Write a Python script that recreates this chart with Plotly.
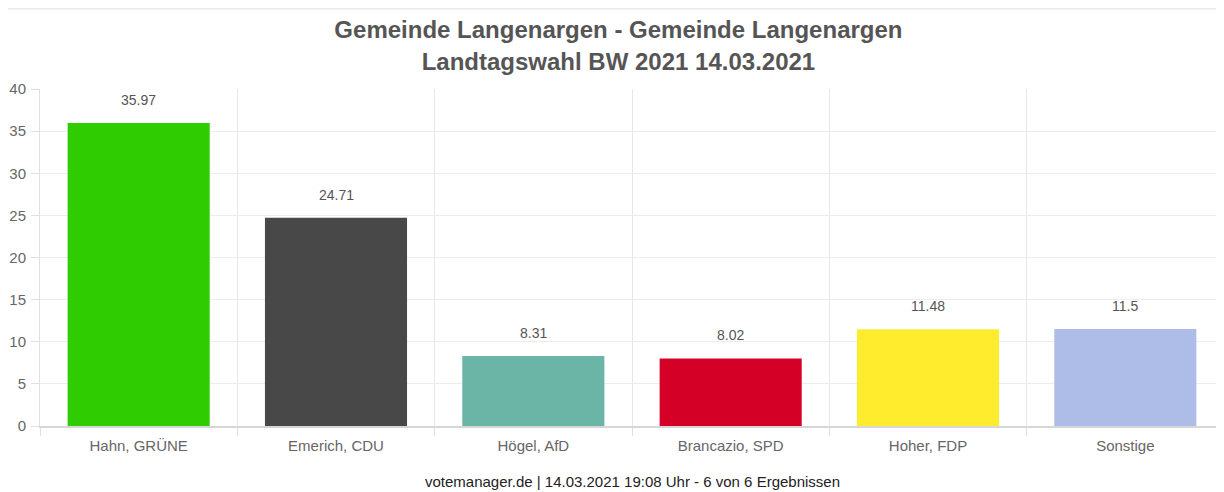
import plotly.graph_objects as go

categories = ["Hahn, GRÜNE", "Emerich, CDU", "Högel, AfD", "Brancazio, SPD", "Hoher, FDP", "Sonstige"]
values = [35.97, 24.71, 8.31, 8.02, 11.48, 11.5]
labels = ["35.97", "24.71", "8.31", "8.02", "11.48", "11.5"]
colors = ["#2ECC00", "#484848", "#6AB5A5", "#D50026", "#FFED2D", "#ADBDE8"]
y_ticks = [0, 5, 10, 15, 20, 25, 30, 35, 40]

FONT = "Liberation Sans, Arial, sans-serif"

fig = go.Figure()
fig.add_trace(go.Bar(
    x=categories, y=values, marker=dict(color=colors, line=dict(width=0)),
    width=0.72, hoverinfo="x+y",
))
for c, v, t in zip(categories, values, labels):
    fig.add_annotation(x=c, y=v, text=t, showarrow=False, yanchor="bottom", yshift=13,
                       font=dict(family=FONT, size=14, color="#555555"))

fig.update_layout(
    width=1216, height=484,
    margin=dict(l=32, r=0, t=81, b=66),
    paper_bgcolor="white", plot_bgcolor="white",
    font=dict(family=FONT, color="#666666"),
    title=dict(
        text="<b>Gemeinde Langenargen - Gemeinde Langenargen<br>Landtagswahl BW 2021 14.03.2021</b>",
        x=0.502, xanchor="center", y=0.937, yanchor="middle",
        font=dict(size=24, color="#555555"),
    ),
    showlegend=False,
)
fig.update_xaxes(
    automargin=False,
    tickson="boundaries", showgrid=True, gridcolor="#e6e6e6", gridwidth=1,
    ticks="outside", ticklen=8, tickcolor="#e0e0e0", ticklabelstandoff=5,
    tickfont=dict(size=15, color="#666666"),
    showline=True, linecolor="#d6d6d6", linewidth=2,
)
fig.update_yaxes(
    automargin=False,
    range=[0, 40], tickvals=y_ticks, showgrid=True, gridcolor="#ececec",
    ticks="outside", ticklen=8, tickcolor="#e0e0e0", ticklabelstandoff=2,
    tickfont=dict(size=15, color="#666666"),
    showline=True, linecolor="#e0e0e0", linewidth=1, zeroline=False,
)
fig.add_shape(type="line", xref="paper", yref="paper", x0=-0.03, x1=1.0, y0=1.238, y1=1.238,
              line=dict(color="#e8eeee", width=2))
fig.add_annotation(
    text="votemanager.de | 14.03.2021 19:08 Uhr - 6 von 6 Ergebnissen",
    xref="paper", yref="paper", x=0.5, y=-0.166, yanchor="middle", showarrow=False,
    font=dict(size=15, color="#222222"),
)
fig.write_html("out.html")
